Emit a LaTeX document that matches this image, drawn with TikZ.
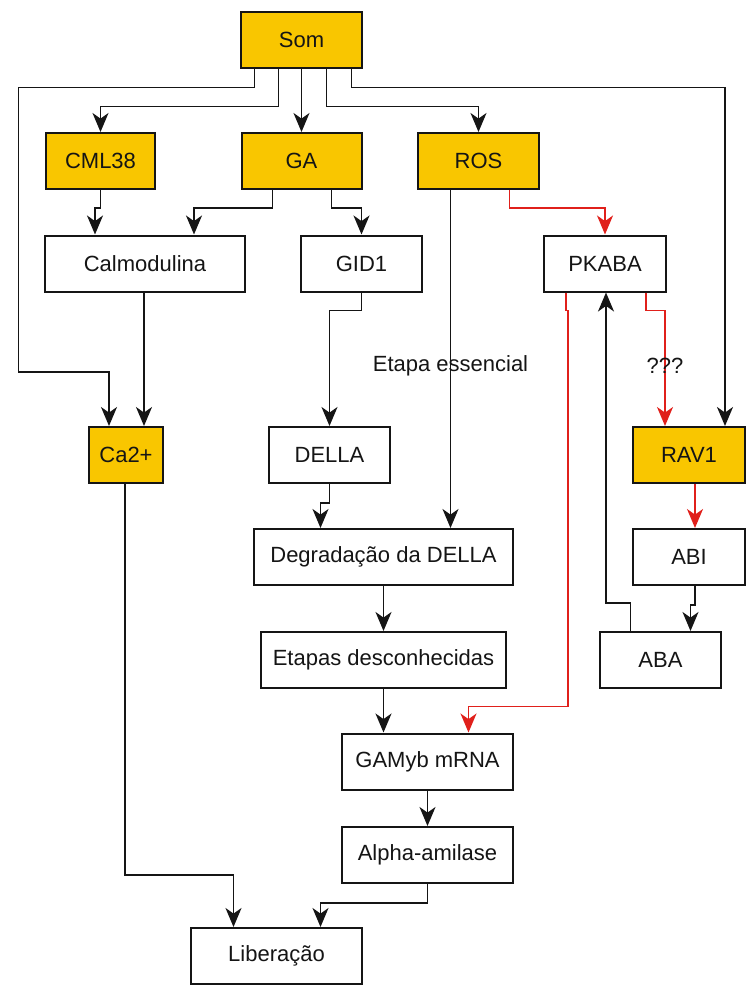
\documentclass[tikz,border=0pt]{standalone}
\usepackage{fontspec}
\setmainfont{Liberation Sans}
\usetikzlibrary{arrows.meta,calc}
\definecolor{hormoneCol}{HTML}{F9C600}
\definecolor{lineCol}{HTML}{151515}
\definecolor{abaCol}{HTML}{E0201B}
\tikzstyle{connection}=[line width=0.9pt, draw=lineCol, -{Stealth[length=9.5pt,width=8pt,inset=2.8pt]}]
\tikzstyle{abapath}=[line width=0.7pt, draw=abaCol, -{Stealth[length=9.5pt,width=8pt,inset=2.8pt]}]
\tikzstyle{stepbox}=[draw=lineCol, line width=1pt, fill=white, minimum height=28pt, inner sep=0pt, font=\fontsize{11}{13}\selectfont, text=lineCol]
\tikzstyle{signal}=[stepbox, fill=hormoneCol]
\tikzstyle{note}=[font=\fontsize{11}{13}\selectfont, text=lineCol, inner sep=0pt]

\begin{document}
\begin{tikzpicture}[x=0.5pt, y=-0.5pt]
    \useasboundingbox (0,0) rectangle (747,985);

    % === SIGNALS ===
    \node[signal, minimum width=60.5pt] (som) at (301.5, 39.5) {Som};
    \node[signal, minimum width=54.5pt] (cml) at (100.5, 161) {CML38};
    \node[signal, minimum width=60pt]   (ga)  at (301.5, 161) {GA};
    \node[signal, minimum width=60.5pt] (ros) at (478.5, 161) {ROS};
    \node[signal, minimum width=37pt]   (ca)  at (126, 455) {Ca2+};
    \node[signal, minimum width=56pt]   (rav) at (689, 455) {RAV1};

    % === STEPS ===
    \node[stepbox, minimum width=100pt]  (calm)   at (145, 263.5) {Calmodulina};
    \node[stepbox, minimum width=60.5pt] (gid)    at (361.5, 263.5) {GID1};
    \node[stepbox, minimum width=61pt]   (pk)     at (605, 263.5) {PKABA};
    \node[stepbox, minimum width=60.5pt] (della)  at (329.5, 455) {DELLA};
    \node[stepbox, minimum width=129.5pt] (deg)   at (383.5, 557) {Degradação da DELLA};
    \node[stepbox, minimum width=56pt]   (abi)    at (689, 557) {ABI};
    \node[stepbox, minimum width=122.5pt] (etapas) at (383.5, 660) {Etapas desconhecidas};
    \node[stepbox, minimum width=60.5pt] (aba)    at (660.5, 660) {ABA};
    \node[stepbox, minimum width=85.5pt] (gamyb)  at (427.5, 761.5) {GAMyb mRNA};
    \node[stepbox, minimum width=85.5pt] (alpha)  at (427.5, 855) {Alpha-amilase};
    \node[stepbox, minimum width=85.5pt] (lib)    at (276.5, 956) {Liberação};

    % ==== CONNECTIONS ====
    % Som -> Ca2+ (outer left)
    \draw[connection] ($(som.south)+(-47,0)$) -- ++(0,19) -- ++(-236,0) |- ($(ca.north)+(-17,-54)$) -- ($(ca.north)+(-17,0)$);

    % Som -> CML38 / GA / ROS
    \draw[connection] ($(som.south)+(-23,0)$) -- ++(0,38) -| (cml.north);
    \draw[connection] (som.south) -- (ga.north);
    \draw[connection] ($(som.south)+(25,0)$) -- ++(0,38) -| (ros.north);

    % Som -> RAV1 (outer right)
    \draw[connection] ($(som.south)+(50,0)$) -- ++(0,19) -| ($(rav.north)+(36,0)$);

    % CML38 -> Calmodulina, GA -> Calmodulina
    \draw[connection] (cml.south) -- ++(0,18) -| ($(calm.north)+(-50,0)$);
    \draw[connection] ($(ga.south)+(-29,0)$) -- ++(0,18) -| ($(calm.north)+(49,0)$);

    % GA -> GID1
    \draw[connection] ($(ga.south)+(30,0)$) -- ++(0,18) -| (gid.north);

    % ROS -> Degradacao
    \draw[connection] ($(ros.south)+(-28,0)$) -- node[note, pos=0.52] {Etapa essencial} ($(deg.north)+(67,0)$);

    % ROS -> PKABA
    \draw[abapath] ($(ros.south)+(31,0)$) -- ++(0,18) -| (pk.north);

    % Calmodulina -> Ca2+
    \draw[connection] ($(calm.south)+(-1,0)$) -- ($(ca.north)+(18,0)$);

    % GID1 -> DELLA -> Degradacao
    \draw[connection] (gid.south) -- ++(0,18) -| (della.north);
    \draw[connection] (della.south) -- ++(0,19) -| ($(deg.north)+(-63,0)$);

    % Degradacao -> Etapas -> GAMyb
    \draw[connection] (deg.south) -- (etapas.north);
    \draw[connection] (etapas.south) -- ($(gamyb.north)+(-44,0)$);

    % PKABA -> GAMyb
    \draw[abapath] ($(pk.south)+(-39,0)$) -- ++(0,18) -- ++(2,0) |- ($(gamyb.north)+(41,-26)$) -- ($(gamyb.north)+(41,0)$);

    % PKABA -> RAV1
    \draw[abapath] ($(pk.south)+(41,0)$) -- ++(0,18) -| node[note, pos=0.74] {???} ($(rav.north)+(-24,0)$);

    % RAV1 -> ABI -> ABA -> PKABA
    \draw[abapath] ($(rav.south)+(6,0)$) -- ($(abi.north)+(6,0)$);
    \draw[connection] ($(abi.south)+(6,0)$) -- ++(0,19) -| ($(aba.north)+(30,0)$);
    \draw[connection] ($(aba.north)+(-30,0)$) -- ++(0,-28) -| ($(pk.south)+(1,0)$);

    % GAMyb -> Alpha-amilase
    \draw[connection] (gamyb.south) -- (alpha.north);

    % Ca2+ / Alpha-amilase -> Liberacao
    \draw[connection] ($(ca.south)+(-1,0)$) -- ++(0,391) -| ($(lib.north)+(-43,0)$);
    \draw[connection] (alpha.south) -- ++(0,19) -| ($(lib.north)+(44,0)$);

\end{tikzpicture}
\end{document}
